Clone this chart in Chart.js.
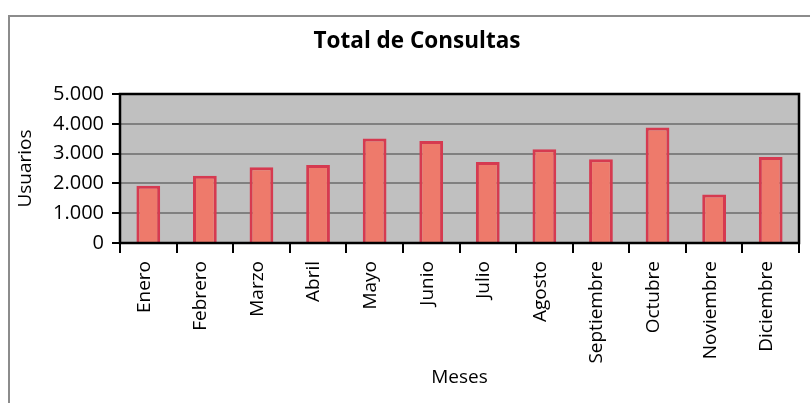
<!DOCTYPE html>
<html>
<head>
<meta charset="utf-8">
<script src="https://cdn.jsdelivr.net/npm/chart.js@4"></script>
<style>
  body { margin: 0; background: #fff; }
  #wrap { position: relative; width: 810px; height: 403px; }
</style>
</head>
<body>
<div id="wrap"><canvas id="canvas_0"></canvas></div>
<script>
// datos
var meses = ['Enero', 'Febrero', 'Marzo', 'Abril', 'Mayo', 'Junio', 'Julio',
    'Agosto', 'Septiembre', 'Octubre', 'Noviembre', 'Diciembre'];
var consultas = [1920, 2260, 2540, 2620, 3510, 3420, 2720, 3150, 2810, 3880, 1630, 2890];
var yTicks = [0, 1000, 2000, 3000, 4000, 5000];

function miles(v) {
    return String(v).replace(/\B(?=(\d{3})+(?!\d))/g, '.');
}

// fondo gris del area y marco del grafico
var marco = {
    id: 'marco',
    beforeDraw: function (chart) {
        var ctx = chart.ctx, a = chart.chartArea;
        ctx.save();
        ctx.fillStyle = '#fff';
        ctx.fillRect(0, 0, chart.width, chart.height);
        ctx.strokeStyle = '#8c8c8c';
        ctx.lineWidth = 2;
        ctx.strokeRect(9, 16, 900, 500);
        ctx.fillStyle = '#c0c0c0';
        ctx.fillRect(a.left, a.top, a.right - a.left, a.bottom - a.top);
        ctx.restore();
    },
    afterDatasetsDraw: function (chart) {
        var ctx = chart.ctx, a = chart.chartArea;
        ctx.save();
        ctx.strokeStyle = '#000';
        ctx.lineWidth = 2.5;
        ctx.strokeRect(a.left, a.top, a.right - a.left, a.bottom - a.top);
        ctx.restore();
    },
    afterLayout: function (chart) {
        // centrar el titulo dentro del marco
        if (chart.titleBlock) {
            chart.titleBlock.left = 8;
            chart.titleBlock.right = 826;
        }
    }
};

var ctx = document.getElementById('canvas_0');
var myChart = new Chart(ctx, {
    type: 'bar',
    data: {
        labels: meses,
        datasets: [{
            label: 'Consultas',
            data: consultas,
            backgroundColor: '#ee7a6b',
            borderColor: '#d63a50',
            borderWidth: 3,
            barPercentage: 0.42,
            categoryPercentage: 1
        }]
    },
    options: {
        responsive: true,
        maintainAspectRatio: false,
        animation: false,
        layout: { padding: { left: 0, right: 11, top: 0, bottom: 0 } },
        plugins: {
            legend: { display: false },
            tooltip: { enabled: false },
            title: {
                display: true,
                text: 'Total de Consultas',
                color: '#000',
                font: { family: 'Open Sans', size: 22.5, weight: 'bold' },
                padding: { top: 28, bottom: 39 }
            }
        },
        scales: {
            x: {
                afterFit: function (scale) { scale.height = 160; },
                grid: {
                    drawOnChartArea: false,
                    color: '#000',
                    lineWidth: 2,
                    tickLength: 10
                },
                border: { color: '#000', width: 2 },
                ticks: {
                    color: '#000',
                    minRotation: 90,
                    maxRotation: 90,
                    padding: 8,
                    labelOffset: -4,
                    font: { family: 'Open Sans', size: 19 }
                },
                title: {
                    display: true,
                    text: 'Meses',
                    color: '#000',
                    font: { family: 'Open Sans', size: 19 },
                    padding: { top: 0, bottom: 14 }
                }
            },
            y: {
                min: 0,
                max: 5000,
                afterFit: function (scale) { scale.width = 120; },
                afterBuildTicks: function (scale) {
                    scale.ticks = yTicks.map(function (v) { return { value: v }; });
                },
                grid: {
                    color: '#808080',
                    tickColor: '#000',
                    lineWidth: 2,
                    tickLength: 8
                },
                border: { color: '#000', width: 2 },
                ticks: {
                    color: '#000',
                    padding: 8,
                    font: { family: 'Open Sans', size: 20 },
                    callback: function (v) { return miles(v); }
                },
                title: {
                    display: true,
                    text: 'Usuarios',
                    color: '#000',
                    font: { family: 'Open Sans', size: 19 },
                    padding: { top: 14, bottom: 0 }
                }
            }
        }
    },
    plugins: [marco]
});
</script>
</body>
</html>
